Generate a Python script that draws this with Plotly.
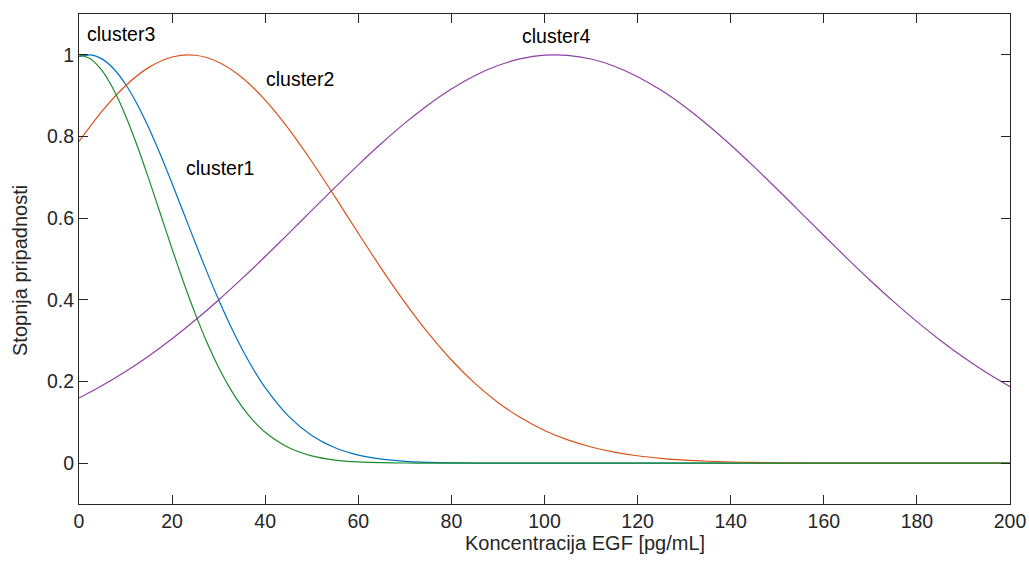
import plotly.graph_objects as go

# cluster1 (blue) and cluster3 (green): denser sampling at the steep part
x_fine = [0, 2.5, 5, 7.5, 10, 12.5, 15, 17.5, 20, 22.5, 25, 27.5, 30, 32.5, 35, 37.5, 40,
          45, 50, 55, 60, 65, 70, 75, 80, 85, 90, 95, 100, 120, 140, 160, 180, 200]
cluster1 = [0.9953, 0.9997, 0.9895, 0.9653, 0.928, 0.8792, 0.8209, 0.7553, 0.6849, 0.612,
            0.539, 0.4679, 0.4002, 0.3373, 0.2802, 0.2294, 0.1851,
            0.1153, 0.0678, 0.0376, 0.0196, 0.0097, 0.0045, 0.0020, 0.0008, 0.0003, 0.0001,
            0.0, 0.0, 0.0, 0.0, 0.0, 0.0, 0.0]
cluster3 = [1.0, 0.990, 0.9605, 0.9133, 0.851, 0.7773, 0.6957, 0.6102, 0.5246, 0.442,
            0.365, 0.2953, 0.2342, 0.182, 0.1387, 0.1035, 0.0757,
            0.0382, 0.0177, 0.0076, 0.0030, 0.0011, 0.0004, 0.0001, 0.0, 0.0, 0.0,
            0.0, 0.0, 0.0, 0.0, 0.0, 0.0, 0.0]

x_vals = list(range(0, 205, 5))
cluster2 = [0.788, 0.8629, 0.9244, 0.9693, 0.9947, 0.999, 0.982, 0.9446, 0.8893, 0.8194,
            0.7388, 0.652, 0.5631, 0.476, 0.3938, 0.3188, 0.2526, 0.1959, 0.1487, 0.1104,
            0.0802, 0.0571, 0.0397, 0.0271, 0.0181, 0.0118, 0.0075, 0.0047, 0.0029, 0.0017,
            0.0010, 0.0006, 0.0003, 0.0002, 0.0001] + [0.0] * 6
cluster4 = [0.1594, 0.19, 0.2244, 0.2626, 0.3047, 0.3505, 0.3997, 0.4518, 0.5062, 0.5621,
            0.6189, 0.6754, 0.7306, 0.7834, 0.8327, 0.8774, 0.9165, 0.9489, 0.9738, 0.9907,
            0.9991, 0.9987, 0.9897, 0.9721, 0.9465, 0.9136, 0.8741, 0.8289, 0.7793, 0.7262,
            0.6709, 0.6143, 0.5576, 0.5017, 0.4475, 0.3956, 0.3467, 0.3012, 0.2594, 0.2214,
            0.1874]

series = [
    ("cluster1", x_fine, cluster1, "#0072BD"),
    ("cluster2", x_vals, cluster2, "#D95319"),
    ("cluster3", x_fine, cluster3, "#1E8C2E"),
    ("cluster4", x_vals, cluster4, "#8E3FA5"),
]

labels = ["cluster3", "cluster2", "cluster1", "cluster4"]
label_x = [1.3, 39.7, 22.6, 94.7]
label_y = [1.052, 0.94, 0.724, 1.045]

x_ticks = list(range(0, 201, 20))
y_ticks = [0, 0.2, 0.4, 0.6, 0.8, 1]
y_tick_text = ["0", "0.2", "0.4", "0.6", "0.8", "1"]

FONT = "Liberation Sans, Arial, Helvetica, sans-serif"
AX = "#262626"
FS = 19.5

fig = go.Figure()
for name, xs, ys, col in series:
    fig.add_trace(go.Scatter(x=xs, y=ys, mode="lines", name=name,
                             line=dict(color=col, width=1.2, shape="spline", smoothing=0.8),
                             hoverinfo="skip"))

for t, lx, ly in zip(labels, label_x, label_y):
    fig.add_annotation(x=lx, y=ly, text=t, showarrow=False, xanchor="left", yanchor="middle",
                       font=dict(family=FONT, size=FS, color="#000000"))

# axis titles
fig.add_annotation(text="Koncentracija EGF [pg/mL]", xref="paper", yref="paper",
                   x=0.543, y=0, xanchor="center", yanchor="middle", yshift=-39,
                   showarrow=False, font=dict(family=FONT, size=20, color=AX))
fig.add_annotation(text="Stopnja pripadnosti", xref="paper", yref="paper",
                   x=0, y=0.4755, xanchor="center", yanchor="middle", xshift=-59,
                   textangle=-90, showarrow=False, font=dict(family=FONT, size=20, color=AX))

axis_common = dict(showgrid=False, zeroline=False, showline=True, linecolor=AX, linewidth=1,
                   mirror="ticks", ticks="inside", ticklen=9, tickwidth=1, tickcolor=AX,
                   automargin=False,
                   tickfont=dict(family=FONT, size=FS, color=AX))

fig.update_layout(
    width=1029, height=563,
    margin=dict(l=79, r=19, t=14, b=59),
    paper_bgcolor="white", plot_bgcolor="white",
    showlegend=False,
    xaxis=dict(range=[0, 200], tickvals=x_ticks, **axis_common),
    yaxis=dict(range=[-0.1, 1.1], tickvals=y_ticks, ticktext=y_tick_text, **axis_common),
)

fig.write_html(
    "out.html",
    config={"displayModeBar": False},
    post_script="document.body.style.margin='0';document.body.style.overflow='hidden';",
)
